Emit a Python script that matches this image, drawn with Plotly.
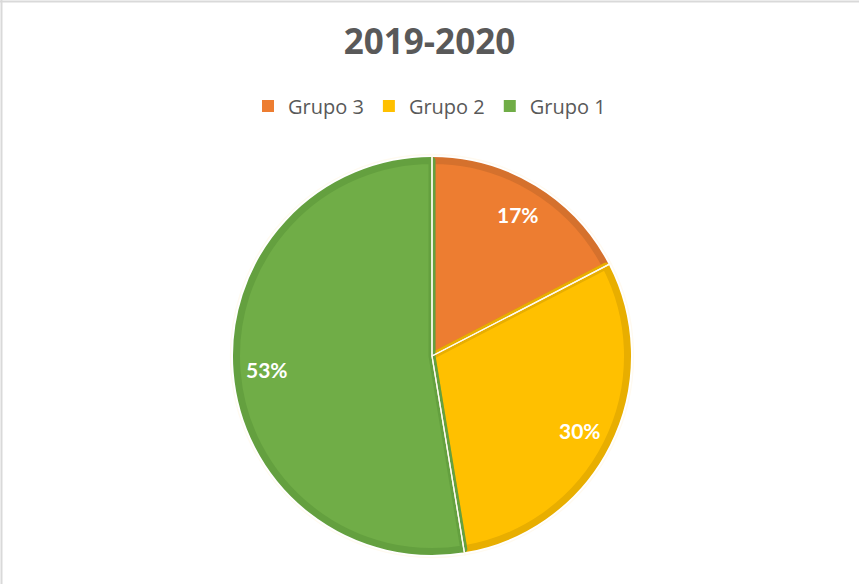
import math
import plotly.graph_objects as go

# ---- data ----
labels = ["Grupo 3", "Grupo 2", "Grupo 1"]
values = [17.4, 30.0, 52.6]
pct_text = ["17%", "30%", "53%"]
fill_colors = ["#ED7D31", "#FFC000", "#70AD47"]
edge_colors = ["#D5712D", "#E8AE00", "#64A03F"]
title_text = "2019-2020"

W, H = 859, 584
cx, cy, R = 432, 356, 195.5  # pie centre/radius in px

def dom(r):
    return (dict(x=[(cx - r) / W, (cx + r) / W],
                 y=[1 - (cy + r) / H, 1 - (cy - r) / H]))

fig = go.Figure()
# legend carrier (plain squares), hidden under the main pie
fig.add_trace(go.Pie(
    labels=labels, values=values, sort=False, direction="clockwise", rotation=0,
    marker=dict(colors=fill_colors, line=dict(width=0)),
    textinfo="none", hoverinfo="skip",
    domain=dom(R - 5), showlegend=True,
))
fig.add_trace(go.Pie(
    labels=labels, values=values, sort=False, direction="clockwise", rotation=0,
    marker=dict(colors=fill_colors, line=dict(color=edge_colors, width=7)),
    textinfo="none", hoverinfo="label+percent",
    domain=dom(R), showlegend=False,
))
# thin light separators between slices (outer arc falls outside the pie)
fig.add_trace(go.Pie(
    labels=labels, values=values, sort=False, direction="clockwise", rotation=0,
    marker=dict(colors=["rgba(0,0,0,0)"] * 3, line=dict(color="rgba(255,250,240,1)", width=1.3)),
    textinfo="none", hoverinfo="skip",
    domain=dom(R + 6), showlegend=False,
))

# percent labels placed along each slice's mid angle
total = sum(values)
cum = 0.0
annotations = []
for v, t in zip(values, pct_text):
    mid = (cum + v / 2) / total * 2 * math.pi
    cum += v
    r = 0.83 * (R + 3.5)
    px = cx + r * math.sin(mid)
    py = cy - r * math.cos(mid)
    annotations.append(dict(
        x=px / W, y=1 - py / H, xref="paper", yref="paper", text=t, showarrow=False,
        font=dict(family="Lato", size=21, color="white", weight="bold"),
        xanchor="center", yanchor="middle",
    ))

fig.update_layout(
    width=W, height=H,
    margin=dict(l=0, r=0, t=0, b=0),
    paper_bgcolor="white", plot_bgcolor="white",
    title=dict(text=title_text, x=0.5, xanchor="center", y=1 - 42 / H, yanchor="middle",
               font=dict(family="Open Sans", size=35, color="#595959", weight="bold")),
    legend=dict(orientation="h", x=0.5, xanchor="center", y=1 - 106 / H, yanchor="middle",
                font=dict(family="Open Sans", size=20, color="#595959"),
                traceorder="normal"),
    annotations=annotations,
    shapes=[
        dict(type="line", xref="paper", yref="paper", x0=0, x1=1, y0=1 - 1.5 / H, y1=1 - 1.5 / H,
             line=dict(color="#D9D9D9", width=2)),
        dict(type="line", xref="paper", yref="paper", x0=1.5 / W, x1=1.5 / W, y0=0, y1=1,
             line=dict(color="#D9D9D9", width=2)),
    ],
)

fig.write_html("out.html", config={"displayModeBar": False},
               post_script="document.body.style.margin='0';")
